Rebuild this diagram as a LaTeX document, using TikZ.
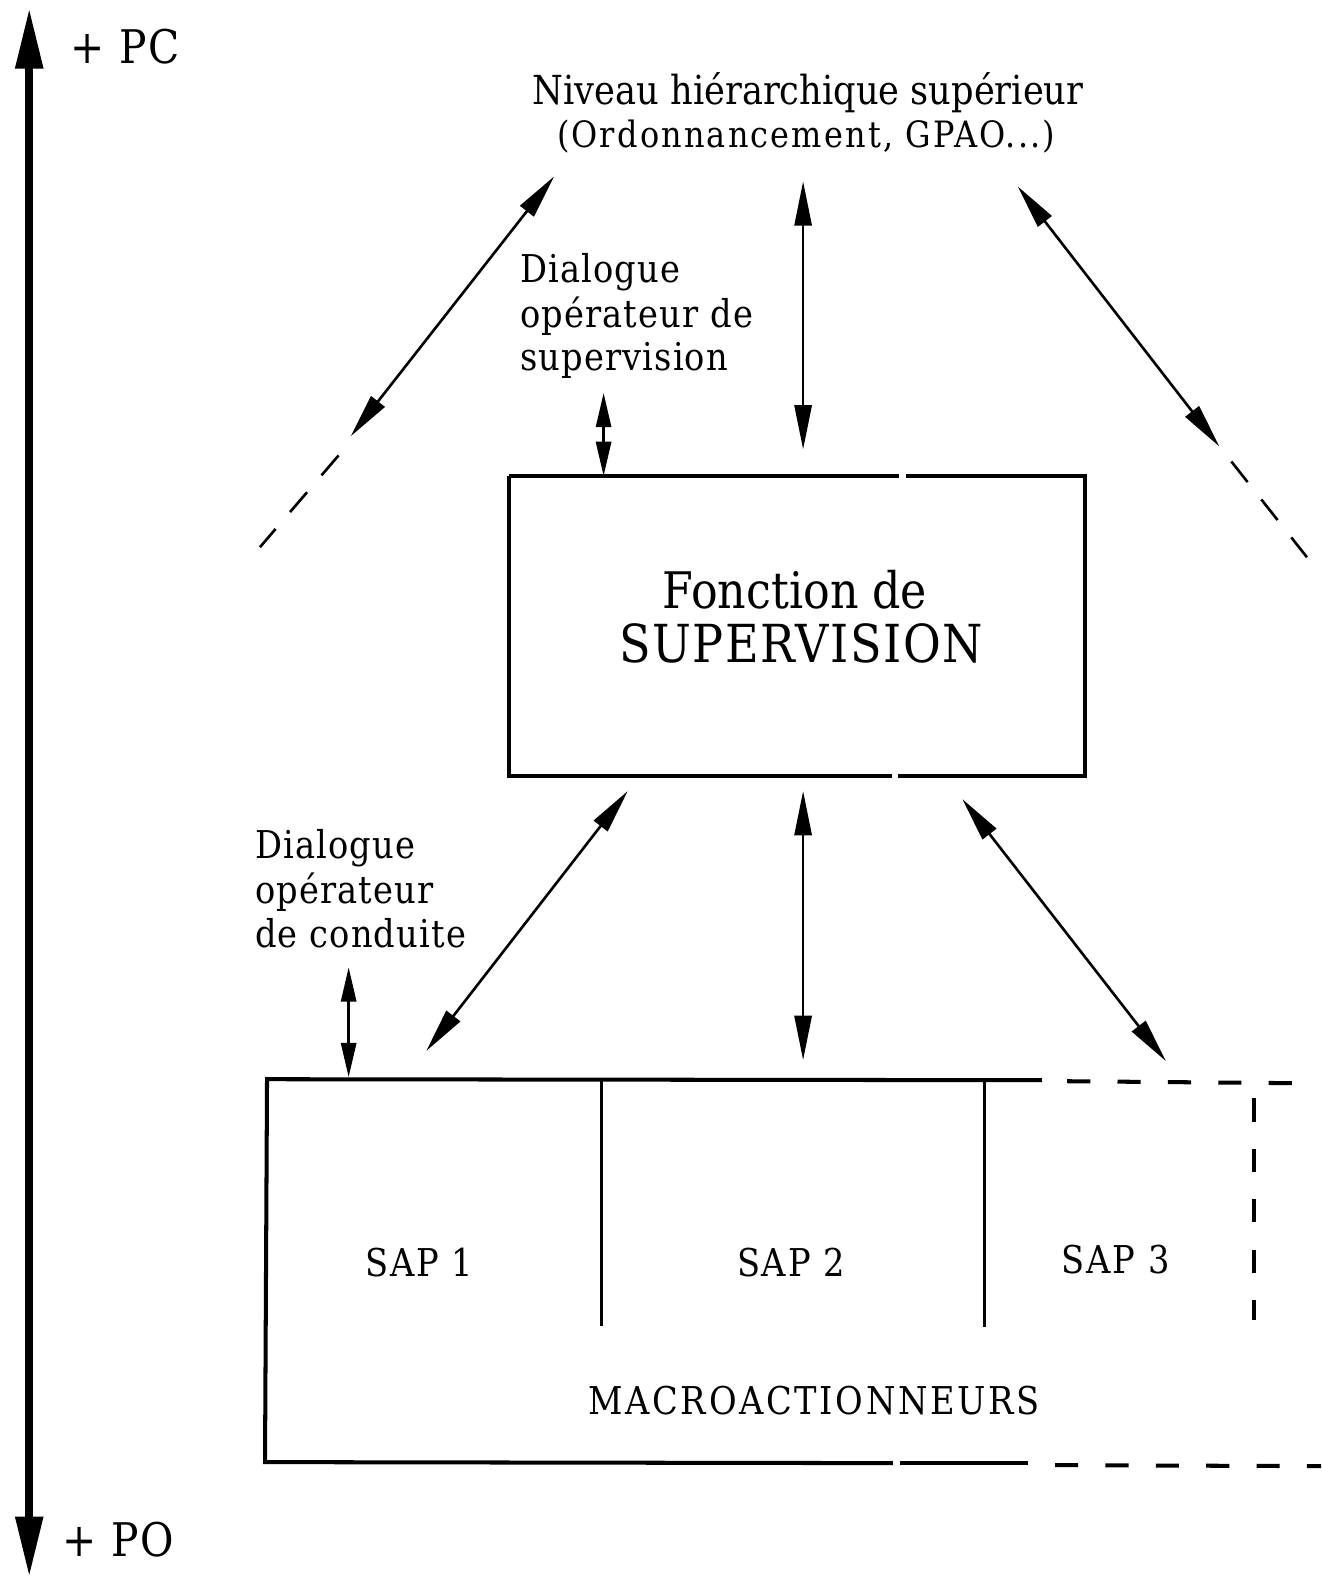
\documentclass[tikz,border=0pt]{standalone}
\usepackage{fontspec}
\setmainfont{DejaVu Serif}[FakeStretch=0.88]
\usetikzlibrary{arrows.meta}
\newcommand\fsz[2]{\fontsize{#1}{#1}\selectfont\addfontfeature{LetterSpace=#2}}
\begin{document}
\begin{tikzpicture}[x=1pt,y=-1pt,
  tip/.tip={Triangle[length=44pt,width=17pt]},
  smalltip/.tip={Triangle[length=34pt,width=15pt]},
  link/.style={line width=2.6pt,tip-tip},
  shortlink/.style={line width=2.6pt,smalltip-smalltip},
  frame/.style={line width=4pt},
  dashline/.style={line width=4pt,dash pattern=on 23pt off 27pt},
  faint/.style={line width=2.6pt,dash pattern=on 26pt off 22pt},
  lbl/.style={inner sep=0pt,anchor=base},
  lbll/.style={inner sep=0pt,anchor=base west},
  dialog/.style={lbll,align=left,font={\fsz{38}{3}}}]
\useasboundingbox (0,0) rectangle (1311,1568);

% vertical scale: PC at the top, PO at the bottom
\coordinate (pcend) at (29,8);
\coordinate (poend) at (29,1565);
\draw[line width=8pt,{Triangle[length=60pt,width=26pt]}-{Triangle[length=60pt,width=26pt]}] (poend) -- (pcend);
\node[lbll] (pc) at (70,63) {\fsz{46}{3}+ PC};
\node[lbll] (po) at (62,1545) {\fsz{46}{3}+ PO};

% upper level
\node[lbl] (niv) at (802,104) {\fsz{39.7}{0}Niveau hiérarchique supérieur};
\node[lbl] (ord) at (800,146) {\fsz{36}{6}(Ordonnancement, GPAO...)};

% supervision dialogue (anchored on the baseline of its last line)
\node[dialog] (dsup) at (516,368) {Dialogue\\[5pt]opérateur de\\[5pt]supervision};

% supervision box
\node[minimum width=572pt,minimum height=297pt,inner sep=0pt] (sup) at (791,621) {};
\draw[frame] (sup.north west) -- ([xshift=-185pt]sup.north east);
\draw[frame] ([xshift=-178pt]sup.north east) -- (sup.north east) -- (sup.south east)
  -- ([xshift=-186pt]sup.south east);
\draw[frame] ([xshift=-192pt]sup.south east) -- (sup.south west) -- (sup.north west);
\node[lbl] (f1) at (789,604) {\fsz{50}{0}Fonction de};
\node[lbl] (f2) at (795,657) {\fsz{52}{3}SUPERVISION};

% links between upper level and supervision
\coordinate (ul1) at (550,175);  \coordinate (ul2) at (348,433);
\coordinate (ul3) at (336,452);  \coordinate (ul4) at (258,543);
\coordinate (uv1) at (797,180);  \coordinate (uv2) at (797,446);
\coordinate (ur1) at (1010,185); \coordinate (ur2) at (1210,443);
\coordinate (ur3) at (1222,458); \coordinate (ur4) at (1297,553);
\draw[link] (ul2) -- (ul1);
\draw[faint] (ul3) -- (ul4);
\draw[link] (uv2) -- (uv1);
\draw[link] (ur1) -- (ur2);
\draw[faint] (ur3) -- (ur4);
\coordinate (ds1) at (599,390);
\draw[shortlink] (ds1) -- (sup.north west -| ds1);

% lower block: macro-actuators
\coordinate (mtl) at (265,1071);
\coordinate (mbl) at (263,1451);
\coordinate (mtr) at (1034,1072);
\coordinate (mbr) at (1020,1452);
\draw[frame] (mtr) -- (mtl) -- (mbl) -- (886,1452);
\draw[frame] (893,1452) -- (mbr);
\draw[dashline] (1059,1073) -- (1290,1075);
\draw[dashline] (1047,1454) -- (1311,1455);
\draw[dashline] (1244,1090) -- (1244,1310);
\coordinate (d1t) at (597,1071); \coordinate (d1b) at (597,1316);
\coordinate (d2t) at (977,1072); \coordinate (d2b) at (977,1317);
\draw[line width=3.6pt] (d1t) -- (d1b);
\draw[line width=3.6pt] (d2t) -- (d2b);
\node[lbl] (sap1) at (416,1267) {\fsz{38}{5}SAP 1};
\node[lbl] (sap2) at (785,1267) {\fsz{38}{5}SAP 2};
\node[lbl] (sap3) at (1107,1264) {\fsz{38}{5}SAP 3};
\node[lbl] (macro) at (808,1404) {\fsz{38}{7}MACROACTIONNEURS};

% links between supervision and the actuator systems
\coordinate (ll1) at (623,785);  \coordinate (ll2) at (423,1043);
\coordinate (lv1) at (797,785);  \coordinate (lv2) at (797,1052);
\coordinate (lr1) at (955,793);  \coordinate (lr2) at (1157,1053);
\draw[link] (ll2) -- (ll1);
\draw[link] (lv2) -- (lv1);
\draw[link] (lr1) -- (lr2);

% operator dialogue (anchored on the baseline of its last line)
\node[dialog] (dcond) at (253,940) {Dialogue\\[5pt]opérateur\\[5pt]de conduite};
\coordinate (dc1) at (346,960);
\coordinate (dc2) at (346,1069);
\draw[shortlink] (dc1) -- (dc2);
\end{tikzpicture}
\end{document}
